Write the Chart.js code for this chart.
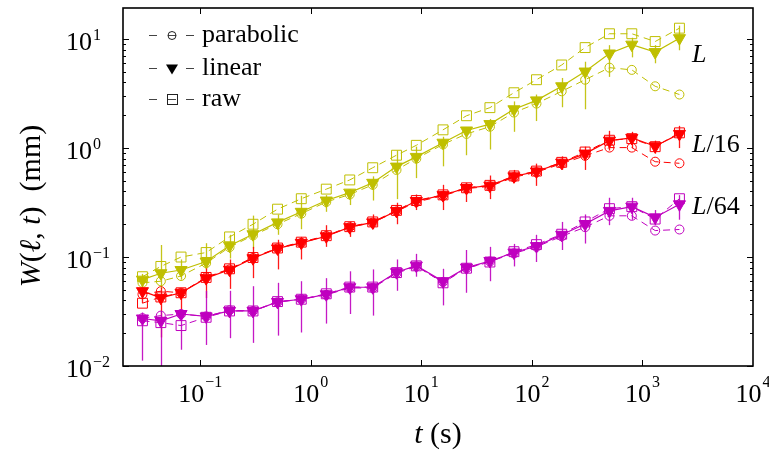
<!DOCTYPE html>
<html lang="en">
<head>
<meta charset="UTF-8">
<title>W(l,t) vs t</title>
<script src="https://cdn.jsdelivr.net/npm/chart.js"></script>
<style>
  html, body { margin: 0; padding: 0; background: #fff; }
  #chart { display: block; }
</style>
</head>
<body>
<canvas id="chart" width="769" height="454"></canvas>
<script>
// sample times (s)
const times = [0.03, 0.044, 0.067, 0.113, 0.184, 0.30, 0.50, 0.82, 1.38, 2.25, 3.63, 5.96,
               9.0, 15.7, 25.6, 41.7, 68.8, 110, 186, 303, 503, 801, 1303, 2161];

// window L
const linL = [0.062, 0.071, 0.076, 0.091, 0.127, 0.162, 0.208, 0.26, 0.33, 0.39, 0.48, 0.676,
              0.83, 1.12, 1.45, 1.66, 2.27, 2.74, 3.69, 5.04, 7.38, 8.9, 7.6, 10.2];
const rawL = [0.066, 0.082, 0.10, 0.11, 0.153, 0.20, 0.275, 0.343, 0.42, 0.51, 0.66, 0.86,
              1.06, 1.47, 1.98, 2.35, 3.22, 4.24, 5.79, 8.36, 11.2, 11.2, 9.5, 12.6];
const parL = [0.058, 0.060, 0.067, 0.088, 0.123, 0.158, 0.20, 0.25, 0.32, 0.375, 0.46, 0.63,
              0.80, 1.08, 1.35, 1.57, 2.12, 2.56, 3.32, 4.24, 5.47, 5.22, 3.69, 3.1];
const loL = [0.057, 0.0507, 0.062, 0.077, 0.097, 0.12, 0.16, 0.18, 0.26, 0.30, 0.33, 0.34,
             0.53, 0.68, 0.86, 0.97, 1.41, 1.77, 2.37, 2.27, 4.5, 6.8, 6.0, 7.9];
const hiL = [0.07, 0.129, 0.095, 0.134, 0.16, 0.24, 0.245, 0.365, 0.37, 0.42, 0.55, 0.95,
             1.03, 1.27, 1.56, 1.85, 2.68, 3.1, 4.4, 6.2, 8.8, 10.3, 8.8, 13.3];

// window L/16
const lin16 = [0.0486, 0.0423, 0.047, 0.064, 0.0765, 0.0975, 0.12, 0.135, 0.155, 0.188, 0.208, 0.265,
               0.327, 0.37, 0.43, 0.452, 0.55, 0.61, 0.735, 0.89, 1.17, 1.24, 1.04, 1.35];
const raw16 = [0.0377, 0.043, 0.047, 0.065, 0.078, 0.099, 0.121, 0.137, 0.157, 0.19, 0.21, 0.268,
               0.33, 0.372, 0.432, 0.455, 0.555, 0.615, 0.74, 0.92, 1.18, 1.22, 1.03, 1.38];
const par16 = [0.0455, 0.0486, 0.047, 0.065, 0.077, 0.098, 0.12, 0.135, 0.156, 0.188, 0.207, 0.262,
               0.32, 0.365, 0.425, 0.445, 0.54, 0.60, 0.72, 0.85, 1.01, 1.01, 0.75, 0.725];
const lo16 = [0.0377, 0.0183, 0.030, 0.042, 0.051, 0.064, 0.077, 0.095, 0.124, 0.153, 0.18, 0.2,
              0.27, 0.27, 0.32, 0.34, 0.48, 0.45, 0.63, 0.63, 0.95, 1.0, 0.89, 1.0];
const hi16 = [0.062, 0.052, 0.051, 0.087, 0.095, 0.124, 0.144, 0.153, 0.196, 0.21, 0.246, 0.315,
              0.375, 0.46, 0.48, 0.56, 0.63, 0.72, 0.84, 1.03, 1.44, 1.41, 1.17, 1.6];

// window L/64
const lin64 = [0.0273, 0.026, 0.030, 0.0285, 0.032, 0.032, 0.0387, 0.041, 0.0455, 0.0528, 0.0528, 0.0726,
               0.0834, 0.0598, 0.080, 0.092, 0.110, 0.126, 0.16, 0.201, 0.265, 0.29, 0.231, 0.305];
const raw64 = [0.026, 0.025, 0.0235, 0.028, 0.032, 0.032, 0.039, 0.041, 0.046, 0.053, 0.053, 0.072,
               0.083, 0.058, 0.079, 0.09, 0.112, 0.13, 0.162, 0.21, 0.278, 0.29, 0.223, 0.343];
const par64 = [0.0275, 0.029, 0.030, 0.0285, 0.0325, 0.032, 0.0385, 0.041, 0.045, 0.052, 0.052, 0.071,
               0.082, 0.059, 0.079, 0.091, 0.108, 0.124, 0.155, 0.188, 0.239, 0.239, 0.175, 0.179];
const lo64 = [0.0112, 0.009, 0.0141, 0.0156, 0.018, 0.0163, 0.019, 0.0203, 0.0245, 0.03, 0.029, 0.049,
              0.066, 0.036, 0.047, 0.06, 0.082, 0.09, 0.116, 0.133, 0.196, 0.22, 0.196, 0.22];
const hi64 = [0.031, 0.032, 0.033, 0.049, 0.049, 0.054, 0.058, 0.06, 0.064, 0.074, 0.077, 0.095,
              0.107, 0.078, 0.116, 0.124, 0.132, 0.16, 0.21, 0.246, 0.35, 0.35, 0.27, 0.37];

const xTicks = [0.1, 1, 10, 100, 1000, 10000];
const yTicks = [0.01, 0.1, 1, 10];
const legendNames = ['parabolic', 'linear', 'raw'];
const groupNames = ['L', 'L/16', 'L/64'];

const colL = '#bfbf00', col16 = '#ff0000', col64 = '#bf00bf';
const serif = '"Liberation Serif", "DejaVu Serif", serif';

function pts(vals) {
    return times.map((t, i) => ({ x: t, y: vals[i] }));
}

function linSet(vals, color) {
    return { data: pts(vals), borderColor: color, borderWidth: 1.2, pointStyle: 'triangle',
             pointRotation: 180, pointRadius: 7, pointBackgroundColor: color,
             pointBorderColor: color, pointBorderWidth: 1 };
}
function parSet(vals, color) {
    return { data: pts(vals), borderColor: color, borderWidth: 1, borderDash: [7, 5],
             pointStyle: 'circle', pointRadius: 4.5, pointBackgroundColor: 'rgba(0,0,0,0)',
             pointBorderColor: color, pointBorderWidth: 1 };
}
function rawSet(vals, color) {
    return { data: pts(vals), borderColor: color, borderWidth: 1, borderDash: [7, 5],
             pointStyle: 'rect', pointRadius: 7, pointBackgroundColor: 'rgba(0,0,0,0)',
             pointBorderColor: color, pointBorderWidth: 1 };
}

const errSets = [
    { lo: loL, hi: hiL, color: colL },
    { lo: lo16, hi: hi16, color: col16 },
    { lo: lo64, hi: hi64, color: col64 }
];

// vertical error bars on the linear series
const errorBars = {
    id: 'errorBars',
    beforeDatasetsDraw(chart) {
        const { ctx, chartArea: a, scales: { x, y } } = chart;
        ctx.save();
        ctx.beginPath();
        ctx.rect(a.left, a.top, a.right - a.left, a.bottom - a.top);
        ctx.clip();
        ctx.lineWidth = 1.3;
        ctx.globalAlpha = 0.9;
        errSets.forEach(s => {
            ctx.strokeStyle = s.color;
            times.forEach((t, i) => {
                const px = Math.round(x.getPixelForValue(t)) + 0.5;
                ctx.beginPath();
                ctx.moveTo(px, y.getPixelForValue(s.lo[i]));
                ctx.lineTo(px, y.getPixelForValue(s.hi[i]));
                ctx.stroke();
            });
        });
        ctx.restore();
    }
};

function supLabel(ctx, exp, x0, base, supBase) {
    ctx.font = '26px ' + serif;
    const w1 = ctx.measureText('10').width;
    ctx.fillText('10', x0, base);
    ctx.font = '16px ' + serif;
    ctx.fillText(exp, x0 + w1 + 1, supBase);
}
function supWidth(ctx, exp) {
    ctx.font = '26px ' + serif;
    const w1 = ctx.measureText('10').width;
    ctx.font = '16px ' + serif;
    return w1 + 1 + ctx.measureText(exp).width;
}
function expText(v) {
    const e = Math.round(Math.log10(v));
    return e < 0 ? '\u2212' + (-e) : String(e);
}

// frame, ticks, labels, legend
const frame = {
    id: 'frame',
    afterDraw(chart) {
        const { ctx, chartArea: a, scales: { x, y } } = chart;
        ctx.save();
        ctx.strokeStyle = '#000';
        ctx.fillStyle = '#000';
        ctx.lineWidth = 1;

        // ticks
        ctx.beginPath();
        xTicks.forEach(v => {
            const px = Math.round(x.getPixelForValue(v)) + 0.5;
            if (px > a.right - 2) return;
            ctx.moveTo(px, a.bottom); ctx.lineTo(px, a.bottom - 6);
            ctx.moveTo(px, a.top); ctx.lineTo(px, a.top + 6);
        });
        for (let k = -2; k <= 1; k++) {
            for (let m = 1; m <= 9; m++) {
                const v = m * Math.pow(10, k);
                if (v > y.max) continue;
                const py = Math.round(y.getPixelForValue(v)) + 0.5;
                const len = m === 1 ? 6 : 3;
                ctx.moveTo(a.left, py); ctx.lineTo(a.left + len, py);
                ctx.moveTo(a.right, py); ctx.lineTo(a.right - len, py);
            }
        }
        ctx.stroke();

        ctx.lineWidth = 1.6;
        ctx.strokeRect(a.left, a.top, a.right - a.left, a.bottom - a.top);

        // tick labels
        ctx.textAlign = 'left';
        xTicks.forEach(v => {
            const px = x.getPixelForValue(v);
            const e = expText(v);
            supLabel(ctx, e, px - supWidth(ctx, e) / 2, 402, 387);
        });
        yTicks.forEach(v => {
            const py = y.getPixelForValue(v);
            ctx.font = '26px ' + serif;
            const w1 = ctx.measureText('10').width;
            supLabel(ctx, expText(v), 92 - w1, py + 11, py + 1);
        });

        // axis titles
        ctx.font = 'italic 30px ' + serif;
        const tW = ctx.measureText('t').width;
        ctx.font = '30px ' + serif;
        const sW = ctx.measureText(' (s)').width;
        let sx = (a.left + a.right) / 2 - (tW + sW) / 2;
        ctx.font = 'italic 30px ' + serif;
        ctx.fillText('t', sx, 443);
        ctx.font = '30px ' + serif;
        ctx.fillText(' (s)', sx + tW, 443);

        const parts = [['W', true], ['(', false], ['\u2113', true], [', ', false], ['t', true], [')  (mm)', false]];
        let total = 0;
        parts.forEach(p => {
            ctx.font = (p[1] ? 'italic ' : '') + '30px ' + serif;
            total += ctx.measureText(p[0]).width;
        });
        ctx.save();
        ctx.translate(40, 206);
        ctx.rotate(-Math.PI / 2);
        let cx = -total / 2;
        parts.forEach(p => {
            ctx.font = (p[1] ? 'italic ' : '') + '30px ' + serif;
            ctx.fillText(p[0], cx, 0);
            cx += ctx.measureText(p[0]).width;
        });
        ctx.restore();

        // group labels
        const gy = [62, 152, 214];
        groupNames.forEach((g, i) => {
            ctx.font = 'italic 26px ' + serif;
            ctx.fillText('L', 692, gy[i]);
            const lw = ctx.measureText('L').width;
            ctx.font = '26px ' + serif;
            ctx.fillText(g.slice(1), 692 + lw, gy[i]);
        });

        // legend
        const ly = [35, 68, 99];
        legendNames.forEach((name, i) => {
            const cy = ly[i] + 0.5;
            ctx.strokeStyle = '#444';
            ctx.lineWidth = 1;
            ctx.beginPath();
            ctx.moveTo(149, cy); ctx.lineTo(157, cy);
            ctx.moveTo(186, cy); ctx.lineTo(194, cy);
            if (name !== 'linear') { ctx.moveTo(168, cy); ctx.lineTo(176, cy); }
            ctx.stroke();
            ctx.strokeStyle = '#222';
            ctx.fillStyle = '#000';
            ctx.beginPath();
            if (name === 'parabolic') {
                ctx.arc(172, cy, 4, 0, Math.PI * 2);
                ctx.stroke();
            } else if (name === 'raw') {
                ctx.strokeRect(167.5, cy - 5, 10, 10);
            } else {
                ctx.moveTo(166, cy - 4); ctx.lineTo(178, cy - 4); ctx.lineTo(172, cy + 6);
                ctx.closePath();
                ctx.fill();
            }
            ctx.font = '26px ' + serif;
            ctx.fillText(name, 202, ly[i] + 7);
        });
        ctx.restore();
    }
};

new Chart(document.getElementById('chart'), {
    type: 'line',
    data: {
        datasets: [
            linSet(linL, colL), linSet(lin16, col16), linSet(lin64, col64),
            parSet(parL, colL), parSet(par16, col16), parSet(par64, col64),
            rawSet(rawL, colL), rawSet(raw16, col16), rawSet(raw64, col64)
        ]
    },
    options: {
        responsive: false,
        animation: false,
        devicePixelRatio: 1,
        layout: { padding: { left: 123, right: 16, top: 2, bottom: 88 } },
        elements: { line: { tension: 0, fill: false } },
        scales: {
            x: { type: 'logarithmic', min: 0.02, max: 10000, display: false },
            y: { type: 'logarithmic', min: 0.01, max: 19.3, display: false }
        },
        plugins: { legend: { display: false }, tooltip: { enabled: false } }
    },
    plugins: [errorBars, frame]
});
</script>
</body>
</html>
